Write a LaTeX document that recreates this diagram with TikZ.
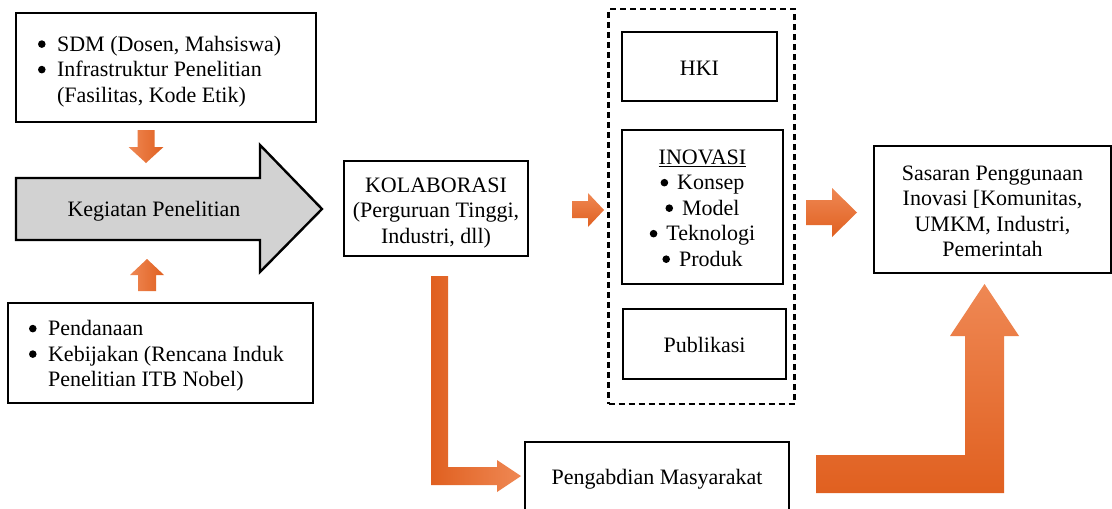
\documentclass[tikz,border=0pt]{standalone}
\usepackage{fontspec}
\setmainfont{Liberation Serif}
\usetikzlibrary{calc}
\definecolor{odark}{RGB}{224,96,32}
\definecolor{omid}{RGB}{236,110,42}
\definecolor{olight}{RGB}{239,136,84}
\definecolor{kgray}{RGB}{210,210,210}
\newcommand{\bul}{\tikz[baseline=0pt]\fill[black] (3.8pt,7pt) circle (3.8pt);}
\begin{document}
\begin{tikzpicture}[x=1pt,y=-1pt,
  txt/.style={font=\fontsize{22}{25.5}\selectfont, inner sep=0pt},
  box/.style={draw, line width=2.4pt, fill=white, inner sep=0pt},
  dashbox/.style={draw, line width=2.4pt, dash pattern=on 6pt off 4pt, inner sep=0pt},
  hshade/.style={top color=olight, bottom color=odark},
  vshade/.style={left color=olight, right color=odark}]
\useasboundingbox (0,0) rectangle (1112,509);
\fill[white] (0,0) rectangle (1112,509);

% gray block arrow with its label
\filldraw[fill=kgray, draw=black, line width=2.4pt, line join=miter]
  (16,178) -- (260,178) -- (260,145) -- (322,209) -- (260,272) -- (260,240) -- (16,240) -- cycle;
\node[txt] (keg) at (154,211) {Kegiatan Penelitian};

% left boxes
\node[box, minimum width=300, minimum height=109] (sdm) at (166,67.5) {};
\node[txt, anchor=west, align=left] (sdmt) at ($(sdm.west)+(23,4)$)
 {\begin{tabular}{@{}l@{\hspace{11.5pt}}l@{}}\bul & SDM (Dosen, Mahsiswa)\\ \bul & Infrastruktur Penelitian\\ & (Fasilitas, Kode Etik)\end{tabular}};
\node[box, minimum width=305, minimum height=100] (dana) at (160.5,353) {};
\node[txt, anchor=west, align=left] (danat) at ($(dana.west)+(22,3)$)
 {\begin{tabular}{@{}l@{\hspace{11.5pt}}l@{}}\bul & Pendanaan\\ \bul & Kebijakan (Rencana Induk\\ & Penelitian ITB Nobel)\end{tabular}};

% middle
\node[box, minimum width=184, minimum height=95] (kolab) at (436,208.5) {};
\node[txt, align=center] (kolabt) at ($(kolab.center)+(0,4.5)$)
 {KOLABORASI\\(Perguruan Tinggi,\\Industri, dll)};

% output group
\node[dashbox, minimum width=186, minimum height=395] (group) at (701.5,206.5) {};
\node[box, minimum width=155, minimum height=69] (hki) at (699.5,66.5) {};
\node[txt] (hkit) at ($(hki.center)+(0,2)$) {HKI};
\node[box, minimum width=161, minimum height=154] (inov) at (702.5,207) {};
\node[txt, align=center] (inovt) at ($(inov.center)+(0,1)$)
 {\underline{INOVASI}\\\bul\hspace{9pt}Konsep\\\bul\hspace{9pt}Model\\\bul\hspace{9pt}Teknologi\\\bul\hspace{9pt}Produk};
\node[box, minimum width=163, minimum height=70] (pub) at (704.5,344) {};
\node[txt] (pubt) at ($(pub.center)+(0,1)$) {Publikasi};

% target and community service
\node[box, minimum width=237, minimum height=127] (sasar) at (992.5,209.5) {};
\node[txt, align=center] (sasart) at ($(sasar.center)+(0,2)$)
 {Sasaran Penggunaan\\Inovasi [Komunitas,\\UMKM, Industri,\\Pemerintah};
\node[box, minimum width=264, minimum height=74] (abdi) at (657,479) {};
\node[txt] (abdit) at (abdi.center) {Pengabdian Masyarakat};

% orange block arrows
\shade[vshade] (137.5,130) -- (154.5,130) -- (154.5,147) -- (163.5,147) -- (146,163) -- (128.5,147) -- (137.5,147) -- cycle;
\shade[vshade] (138,291) -- (156,291) -- (156,275) -- (164,275) -- (147,259) -- (130,275) -- (138,275) -- cycle;
\shade[hshade] (572,201) -- (588,201) -- (588,193) -- (604,210) -- (588,227) -- (588,218) -- (572,218) -- cycle;
\shade[hshade] (806,200) -- (832,200) -- (832,188) -- (857,212.5) -- (832,237) -- (832,225) -- (806,225) -- cycle;
\shade[left color=odark, middle color=omid, right color=olight]
  (431,276) -- (448,276) -- (448,467) -- (497,467) -- (497,460) -- (521,476) -- (497,492) -- (497,485) -- (431,485) -- cycle;
\shade[top color=olight, middle color=omid, bottom color=odark]
  (816,455) -- (965,455) -- (965,336) -- (950,336) -- (984.5,284) -- (1019,336) -- (1004,336) -- (1004,493) -- (816,493) -- cycle;
\end{tikzpicture}
\end{document}
